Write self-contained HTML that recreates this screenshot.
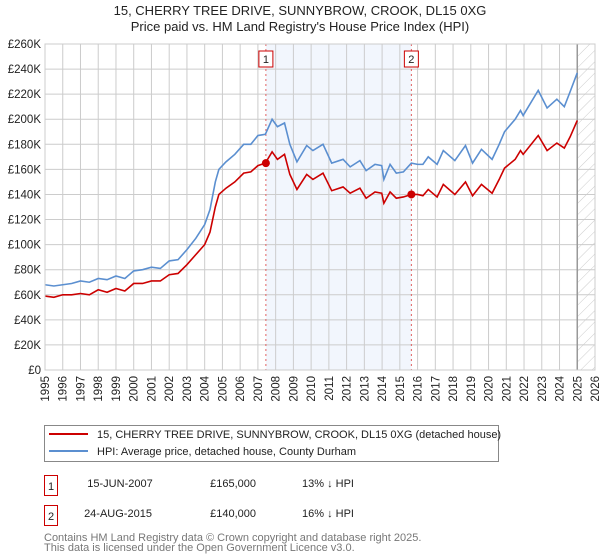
<!DOCTYPE html>
<html><head><meta charset="utf-8"><style>
body{margin:0;background:#fff;font-family:"Liberation Sans","DejaVu Sans",sans-serif;}
#wrap{position:relative;width:600px;height:560px;overflow:hidden;}
</style></head><body><div id="wrap">
<svg id="chart" width="600" height="560" xmlns="http://www.w3.org/2000/svg">
<defs><pattern id="hatch" width="8" height="8" patternUnits="userSpaceOnUse" patternTransform="rotate(45)"><line x1="0" y1="0" x2="0" y2="8" stroke="#ccc" stroke-width="1"/></pattern></defs>
<text x="300" y="15" text-anchor="middle" font-size="13" fill="#222">15, CHERRY TREE DRIVE, SUNNYBROW, CROOK, DL15 0XG</text>
<text x="300" y="31" text-anchor="middle" font-size="13" fill="#222">Price paid vs. HM Land Registry's House Price Index (HPI)</text>
<g id="plot"></g>
<g>
<rect x="44.5" y="425.5" width="454" height="36" fill="#fff" stroke="#888"/>
<line x1="49" y1="434" x2="88" y2="434" stroke="#cc0000" stroke-width="2"/>
<text x="97" y="438" font-size="11" fill="#222">15, CHERRY TREE DRIVE, SUNNYBROW, CROOK, DL15 0XG (detached house)</text>
<line x1="49" y1="451" x2="88" y2="451" stroke="#5b8fd0" stroke-width="2"/>
<text x="97" y="455" font-size="11" fill="#222">HPI: Average price, detached house, County Durham</text>
</g>
<g font-size="11" fill="#222">
<rect x="44.5" y="475.5" width="13" height="20" fill="none" stroke="#cc0000"/>
<text x="51" y="490" text-anchor="middle">1</text>
<text x="120" y="487" text-anchor="middle">15-JUN-2007</text>
<text x="256" y="487" text-anchor="end">£165,000</text>
<text x="302" y="487">13% ↓ HPI</text>
<rect x="44.5" y="505.5" width="13" height="20" fill="none" stroke="#cc0000"/>
<text x="51" y="520" text-anchor="middle">2</text>
<text x="118" y="517" text-anchor="middle">24-AUG-2015</text>
<text x="256" y="517" text-anchor="end">£140,000</text>
<text x="302" y="517">16% ↓ HPI</text>
</g>
<text x="44" y="541" font-size="11" fill="#777">Contains HM Land Registry data © Crown copyright and database right 2025.</text>
<text x="44" y="551" font-size="11" fill="#777">This data is licensed under the Open Government Licence v3.0.</text>
</svg>
<script>
const dates=[1995.0,1995.5,1996.0,1996.5,1997.0,1997.5,1998.0,1998.5,1999.0,1999.5,2000.0,2000.5,2001.0,2001.5,2002.0,2002.5,2003.0,2003.5,2004.0,2004.3,2004.6,2004.8,2005.2,2005.7,2006.2,2006.6,2007.0,2007.42,2007.8,2008.1,2008.5,2008.8,2009.2,2009.75,2010.1,2010.67,2011.16,2011.8,2012.2,2012.75,2013.1,2013.6,2013.98,2014.1,2014.45,2014.8,2015.2,2015.65,2016.0,2016.3,2016.6,2017.1,2017.45,2018.1,2018.7,2019.1,2019.6,2020.2,2020.6,2020.9,2021.5,2021.8,2021.95,2022.8,2023.3,2023.85,2024.27,2024.6,2025.0];
const hpiValues=[68,67,68,69,71,70,73,72,75,73,79,80,82,81,87,88,96,105,116,128,150,160,166,172,180,180,187,188,200,194,197,180,166,179,175,180,165,168,162,167,159,164,163,152,164,157,158,165,164,164,170,164,175,167,179,165,176,168,180,190,200,207,203,223,209,216,210,222,237];
const priceValues=[59,58,60,60,61,60,64,62,65,63,69,69,71,71,76,77,84,92,100,110,130,140,145,150,157,158,163,165,174,168,172,156,144,156,152,157,143,146,141,145,137,142,141,133,142,137,138,140,140,139,144,138,148,140,150,139,148,141,152,161,168,175,172,187,175,181,177,186,199];
const yTicks=[0,20,40,60,80,100,120,140,160,180,200,220,240,260];
const yTickLabels=["£0","£20K","£40K","£60K","£80K","£100K","£120K","£140K","£160K","£180K","£200K","£220K","£240K","£260K"];
const xYears=[1995,1996,1997,1998,1999,2000,2001,2002,2003,2004,2005,2006,2007,2008,2009,2010,2011,2012,2013,2014,2015,2016,2017,2018,2019,2020,2021,2022,2023,2024,2025,2026];
const saleDates=[2007.45,2015.65];
const salePrices=[165,140];
const saleLabels=["1","2"];
const dataEnd=2025.0;

const X0=45,X1=595,Y0=370,Y1=44;
const xs=y=>X0+(y-1995)/(2026-1995)*(X1-X0);
const ys=v=>Y0-v/260*(Y0-Y1);
const NS="http://www.w3.org/2000/svg";
const g=document.getElementById('plot');
function mk(t,a,p){const e=document.createElementNS(NS,t);for(const k in a)e.setAttribute(k,a[k]);(p||g).appendChild(e);return e;}

const shade=mk('rect',{x:xs(saleDates[0]),y:Y1,width:xs(saleDates[1])-xs(saleDates[0]),height:Y0-Y1,fill:'#eef3fc',opacity:0.75});


const hatch=mk('rect',{x:xs(dataEnd),y:Y1,width:X1-xs(dataEnd),height:Y0-Y1,fill:'url(#hatch)'});



yTicks.forEach((v,i)=>{
 const l=mk('line',{x1:X0,x2:X1,y1:ys(v),y2:ys(v),stroke:'#ccc','stroke-width':1});
 
 
 const t=mk('text',{x:X0-4,y:ys(v)+4,'text-anchor':'end','font-size':11.5,fill:'#222'});
 t.textContent=yTickLabels[i];
 
 
});
xYears.forEach(yr=>{
 const l=mk('line',{x1:xs(yr),x2:xs(yr),y1:Y1,y2:Y0,stroke:'#ccc','stroke-width':1});
 
 
 const t=mk('text',{x:0,y:0,'text-anchor':'end','font-size':11.5,fill:'#222',transform:`translate(${xs(yr)+4},${Y0+6}) rotate(-90)`});
 t.textContent=yr;
 
 
});
const el=mk('line',{x1:xs(dataEnd),x2:xs(dataEnd),y1:Y1,y2:Y0,stroke:'#999','stroke-width':1.5});



saleDates.forEach((d,i)=>{
 const l=mk('line',{x1:xs(d),x2:xs(d),y1:Y1,y2:Y0,stroke:'#e06060','stroke-width':1,'stroke-dasharray':'2,3'});
 
 
 const r=mk('rect',{x:xs(d)-7,y:51,width:14,height:16,fill:'#fff',stroke:'#cc0000'});
 
 
 const t=mk('text',{x:xs(d),y:63,'text-anchor':'middle','font-size':11,fill:'#222'});
 t.textContent=saleLabels[i];
 
 
});

const hp=mk('polyline',{points:dates.map((d,i)=>xs(d)+','+ys(hpiValues[i])).join(' '),fill:'none',stroke:'#5b8fd0','stroke-width':1.6});


const pp=mk('polyline',{points:dates.map((d,i)=>xs(d)+','+ys(priceValues[i])).join(' '),fill:'none',stroke:'#cc0000','stroke-width':1.6});


saleDates.forEach((d,i)=>{
 const c=mk('circle',{cx:xs(d),cy:ys(salePrices[i]),r:4,fill:'#cc0000'});
 
 
});
const fr=mk('rect',{x:X0,y:Y1,width:X1-X0,height:Y0-Y1,fill:'none',stroke:'#ccc'});


</script>
</div></body></html>
